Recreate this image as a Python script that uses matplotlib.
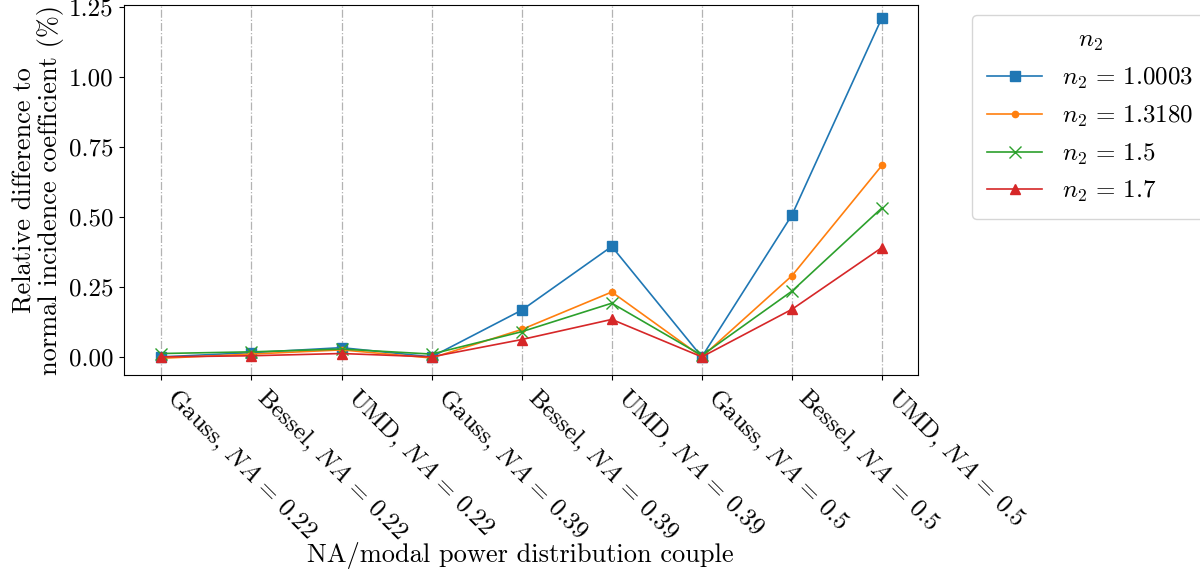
"""NA / modal power distribution comparison across n2 values."""

import matplotlib

matplotlib.use("Agg")
import matplotlib.pyplot as plt

plt.rcParams["font.family"] = "serif"
plt.rcParams["font.serif"] = ["cmr10"]
plt.rcParams["mathtext.fontset"] = "cm"
plt.rcParams["axes.formatter.use_mathtext"] = True

CATEGORIES = [
    r"Gauss, $NA\,=\,0.22$",
    r"Bessel, $NA\,=\,0.22$",
    r"UMD, $NA\,=\,0.22$",
    r"Gauss, $NA\,=\,0.39$",
    r"Bessel, $NA\,=\,0.39$",
    r"UMD, $NA\,=\,0.39$",
    r"Gauss, $NA\,=\,0.5$",
    r"Bessel, $NA\,=\,0.5$",
    r"UMD, $NA\,=\,0.5$",
]

N2_LABELS = [r"$n_2\,=\,1.0003$", r"$n_2\,=\,1.3180$", r"$n_2\,=\,1.5$", r"$n_2\,=\,1.7$"]

DIFF_10003 = [0.000, 0.015, 0.033, 0.000, 0.167, 0.395, 0.000, 0.507, 1.213]
DIFF_13180 = [-0.005, 0.010, 0.025, -0.004, 0.098, 0.232, 0.000, 0.290, 0.685]
DIFF_15 = [0.012, 0.018, 0.028, 0.010, 0.090, 0.192, 0.005, 0.235, 0.533]
DIFF_17 = [0.000, 0.004, 0.012, 0.000, 0.062, 0.134, 0.000, 0.170, 0.391]

SERIES = [DIFF_10003, DIFF_13180, DIFF_15, DIFF_17]
STYLES = [
    dict(color="C0", marker="s", markersize=7),
    dict(color="C1", marker="o", markersize=4.5),
    dict(color="C2", marker="x", markersize=8),
    dict(color="C3", marker="^", markersize=7.5),
]

fig = plt.figure(figsize=(12, 5.77), dpi=100)
ax = fig.add_axes([0.103, 0.35, 0.662, 0.642])

x = list(range(len(CATEGORIES)))
for vals, label, style in zip(SERIES, N2_LABELS, STYLES):
    ax.plot(x, vals, linewidth=1.2, label=label, **style)

ax.set_xticks(x)
ax.set_xticklabels(CATEGORIES, rotation=-45, ha="left", fontsize=18)
ax.tick_params(axis="y", labelsize=18)
ax.set_xlim(-0.42, 8.4)
ax.set_ylim(-0.065, 1.26)
ax.set_yticks([0.0, 0.25, 0.5, 0.75, 1.0, 1.25])
ax.set_yticklabels(["0.00", "0.25", "0.50", "0.75", "1.00", "1.25"])
ax.grid(axis="x", linestyle="-.", color="0.7", linewidth=0.9)
ax.set_xlabel("NA/modal power distribution couple", fontsize=19, labelpad=-3)
ax.set_ylabel("Relative difference to\nnormal incidence coefficient (%)", fontsize=19,
              linespacing=1.0)

fig.legend(title=r"$n_2$", loc="upper left", bbox_to_anchor=(0.81, 0.974),
           borderaxespad=0, fontsize=18, title_fontsize=18, borderpad=0.6,
           handlelength=2.2)

fig.savefig("out.png", dpi=100)
plt.close(fig)
